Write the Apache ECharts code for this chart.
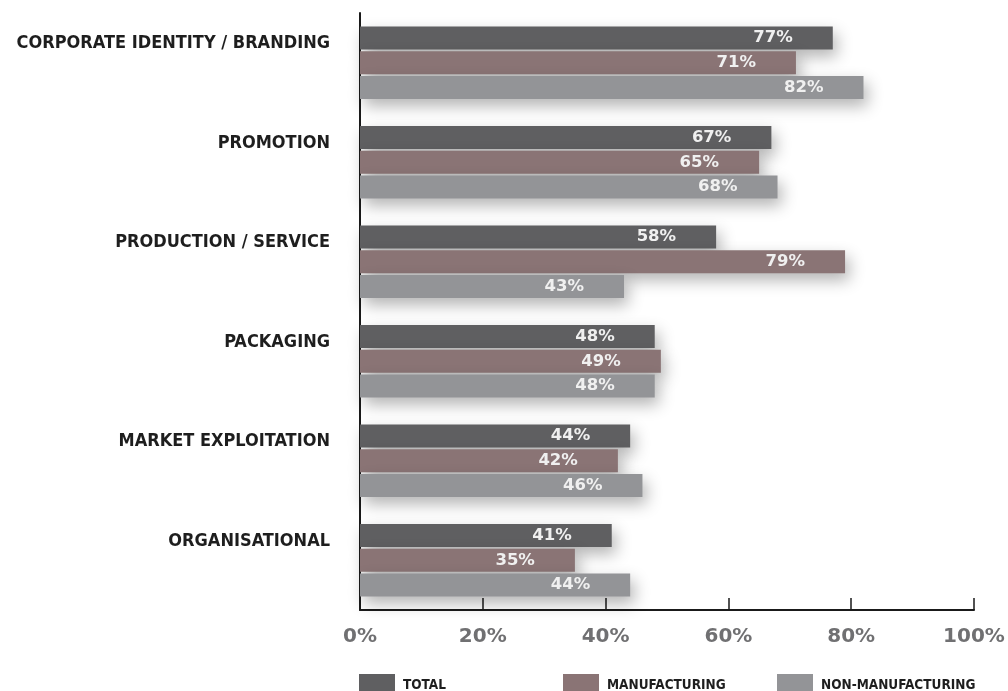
<!DOCTYPE html>
<html>
<head>
<meta charset="utf-8">
<script src="https://cdn.jsdelivr.net/npm/echarts@6/dist/echarts.min.js"></script>
<style>
  html, body { margin: 0; padding: 0; background: #ffffff; }
  #chart { width: 1008px; height: 691px; }
</style>
</head>
<body>
<div id="chart"></div>
<script>
// Innovation areas, share of firms (%)
const categories = [
  'CORPORATE IDENTITY / BRANDING',
  'PROMOTION',
  'PRODUCTION / SERVICE',
  'PACKAGING',
  'MARKET EXPLOITATION',
  'ORGANISATIONAL'
];
const totalValues = [77, 67, 58, 48, 44, 41];
const manufacturingValues = [71, 65, 79, 49, 42, 35];
const nonManufacturingValues = [82, 68, 43, 48, 46, 44];
const seriesNames = ['TOTAL', 'MANUFACTURING', 'NON-MANUFACTURING'];
const seriesColors = ['#5f5f61', '#8a7475', '#939497'];

const labelFont = '"DejaVu Sans Condensed", "DejaVu Sans", sans-serif';

function barSeries(name, values, color) {
  return {
    name: name,
    type: 'bar',
    data: values,
    barWidth: 23,
    barGap: '8%',
    itemStyle: {
      color: color,
      shadowColor: 'rgba(0,0,0,0.30)',
      shadowBlur: 16,
      shadowOffsetX: 4,
      shadowOffsetY: 7
    },
    label: {
      show: true,
      position: 'insideRight',
      distance: 40,
      formatter: '{c}%',
      color: '#f0f0f0',
      fontFamily: '"DejaVu Sans", sans-serif',
      fontWeight: 'bold',
      fontSize: 16.5
    }
  };
}

function legendAt(left, name) {
  return {
    data: [name],
    left: left,
    top: 674,
    padding: 0,
    orient: 'horizontal',
    itemWidth: 36,
    itemHeight: 22,
    icon: 'rect',
    selectedMode: false,
    textStyle: {
      color: '#1e1e1e',
      fontFamily: labelFont,
      fontWeight: 'bold',
      fontSize: 13.5,
      padding: [2, 0, 0, 3]
    }
  };
}

const chart = echarts.init(document.getElementById('chart'));
chart.setOption({
  animation: false,
  backgroundColor: '#ffffff',
  color: seriesColors,
  grid: { left: 360, right: 34, top: 13, height: 597, containLabel: false },
  legend: [
    legendAt(359, seriesNames[0]),
    legendAt(563, seriesNames[1]),
    legendAt(777, seriesNames[2])
  ],
  xAxis: {
    type: 'value',
    min: 0,
    max: 100,
    interval: 20,
    splitLine: { show: false },
    axisLine: { show: true, lineStyle: { color: '#1a1a1a', width: 2 } },
    axisTick: { show: true, inside: true, length: 12, lineStyle: { color: '#1a1a1a', width: 1.5 } },
    axisLabel: {
      formatter: '{value}%',
      margin: 17,
      color: '#707072',
      fontFamily: '"DejaVu Sans", sans-serif',
      fontWeight: 'bold',
      fontSize: 20
    }
  },
  yAxis: {
    type: 'category',
    data: categories,
    inverse: true,
    axisLine: { show: true, lineStyle: { color: '#1a1a1a', width: 2 } },
    axisTick: { show: false },
    axisLabel: {
      margin: 30,
      color: '#1e1e1e',
      fontFamily: labelFont,
      fontWeight: 'bold',
      fontSize: 18,
      lineHeight: 38,
      verticalAlign: 'middle',
      // an empty second line lifts each name level with its first bar
      formatter: function (v) { return v + '\n '; }
    }
  },
  series: [
    barSeries(seriesNames[0], totalValues, seriesColors[0]),
    barSeries(seriesNames[1], manufacturingValues, seriesColors[1]),
    barSeries(seriesNames[2], nonManufacturingValues, seriesColors[2])
  ]
});
</script>
</body>
</html>
